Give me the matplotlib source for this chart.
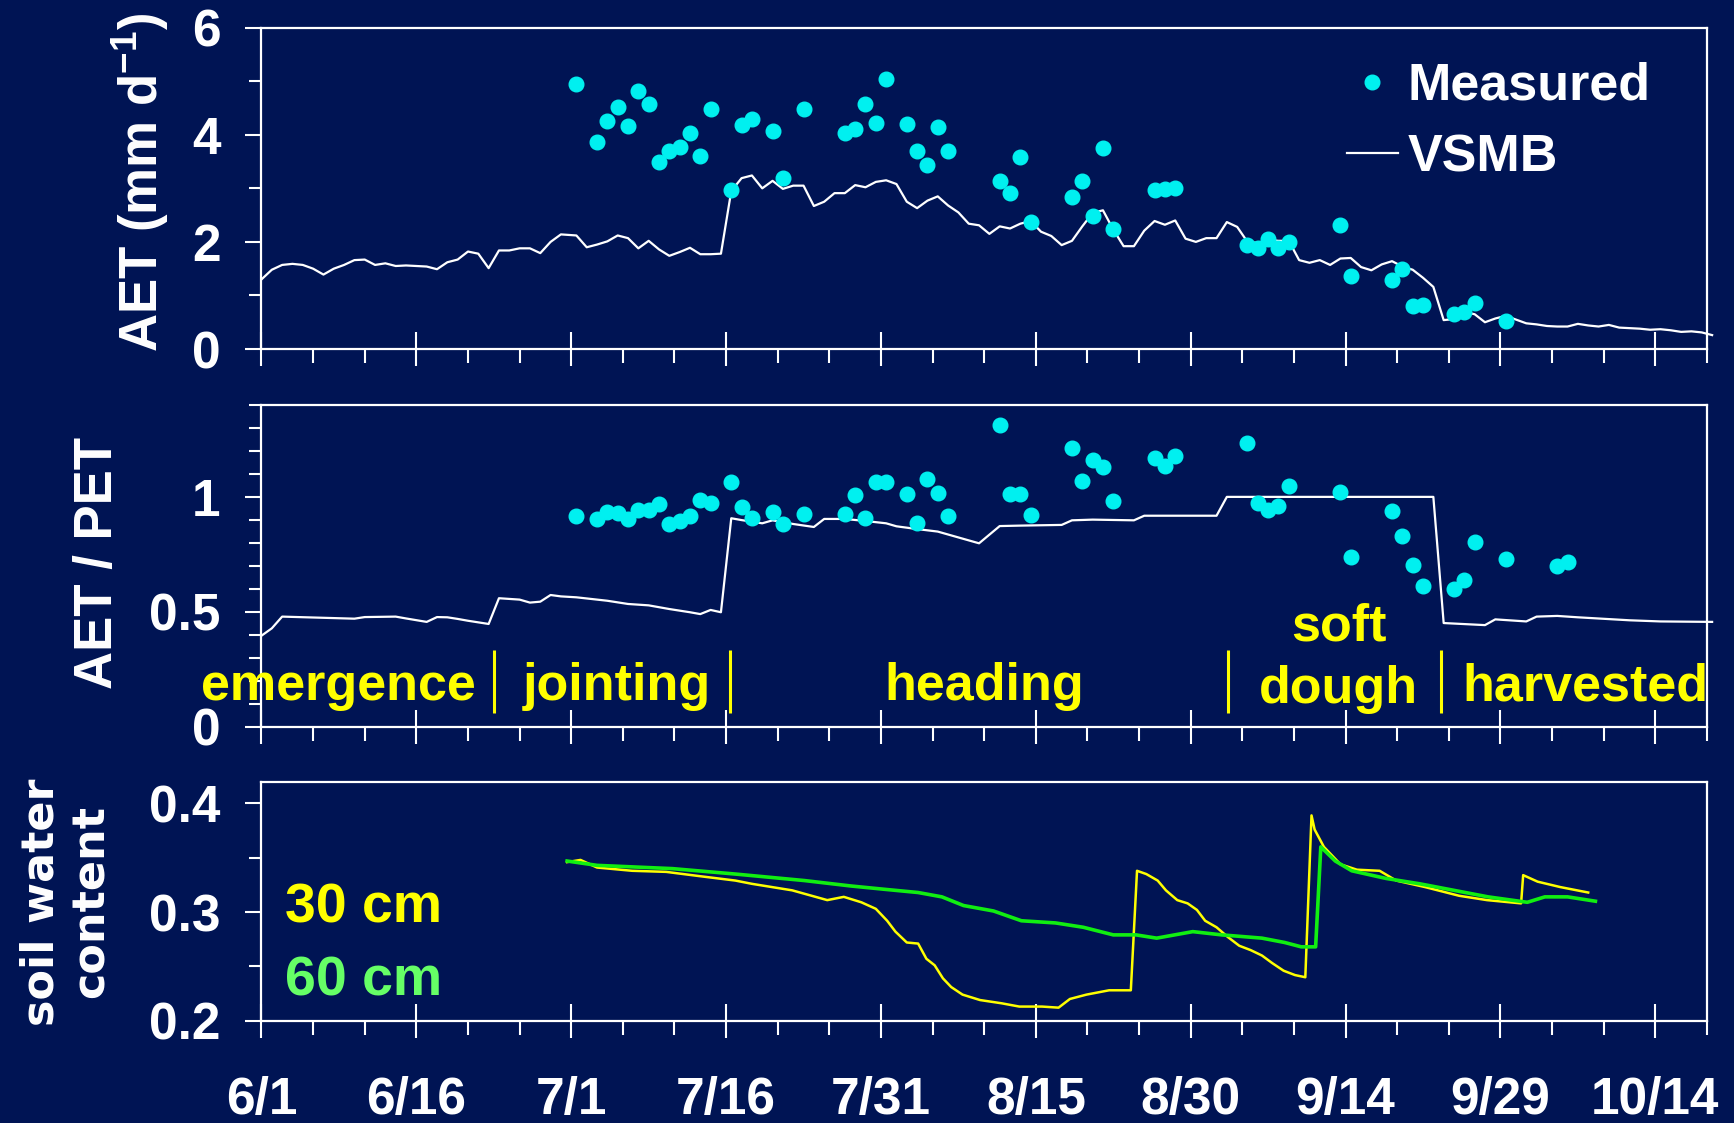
import numpy as np
import matplotlib.pyplot as plt
from matplotlib.ticker import MultipleLocator

# ---- data (days counted from 6/1) ----
date_labels = ['6/1', '6/16', '7/1', '7/16', '7/31', '8/15', '8/30', '9/14', '9/29', '10/14']

# modelled daily AET (VSMB)
vsmb_day = np.concatenate([np.arange(0, 30), np.arange(30.5, 141)])
vsmb_aet = [
    1.30, 1.48, 1.57, 1.59, 1.57, 1.50, 1.39, 1.50, 1.57, 1.66,
    1.67, 1.57, 1.60, 1.55, 1.56, 1.55, 1.54, 1.49, 1.62, 1.67,
    1.82, 1.78, 1.51, 1.84, 1.84, 1.88, 1.88, 1.79, 2.00, 2.14,
    2.12, 1.90, 1.95, 2.01, 2.12, 2.07, 1.88, 2.02, 1.86, 1.74,
    1.81, 1.89, 1.77, 1.77, 1.78, 2.95, 3.19, 3.24, 3.00, 3.14,
    2.99, 3.05, 3.05, 2.67, 2.75, 2.91, 2.91, 3.06, 3.02, 3.12,
    3.15, 3.08, 2.75, 2.63, 2.77, 2.85, 2.68, 2.55, 2.34, 2.31,
    2.15, 2.29, 2.25, 2.34, 2.39, 2.19, 2.11, 1.94, 2.02, 2.29,
    2.54, 2.59, 2.23, 1.92, 1.92, 2.21, 2.39, 2.32, 2.40, 2.06,
    2.00, 2.07, 2.07, 2.37, 2.28, 2.00, 1.98, 2.04, 2.02, 2.02,
    1.66, 1.61, 1.66, 1.57, 1.69, 1.70, 1.53, 1.47, 1.58, 1.64,
    1.54, 1.48, 1.33, 1.16, 0.54, 0.56, 0.69, 0.65, 0.50, 0.57,
    0.62, 0.55, 0.48, 0.46, 0.43, 0.42, 0.42, 0.47, 0.44, 0.42,
    0.45, 0.40, 0.39, 0.38, 0.36, 0.37, 0.35, 0.32, 0.33, 0.31,
    0.26,
]

# measured AET
meas_day = [30.5, 32.5, 33.5, 34.5, 35.5, 36.5, 37.5, 38.5, 39.5, 40.5,
            41.5, 42.5, 43.5, 45.5, 46.5, 47.5, 49.5, 50.5, 52.5, 56.5,
            57.5, 58.5, 59.5, 60.5, 62.5, 63.5, 64.5, 65.5, 66.5, 71.5,
            72.5, 73.5, 74.5, 78.5, 79.5, 80.5, 81.5, 82.5, 86.5, 87.5,
            88.5, 95.5, 96.5, 97.5, 98.5, 99.5, 104.5, 105.5, 109.5, 110.5,
            111.5, 112.5, 115.5, 116.5, 117.5, 120.5]
meas_aet = [4.95, 3.86, 4.25, 4.52, 4.17, 4.81, 4.58, 3.50, 3.69, 3.77,
            4.04, 3.61, 4.48, 2.96, 4.19, 4.30, 4.07, 3.19, 4.49, 4.04,
            4.10, 4.58, 4.22, 5.05, 4.20, 3.69, 3.43, 4.15, 3.70, 3.14,
            2.92, 3.58, 2.37, 2.83, 3.13, 2.49, 3.75, 2.24, 2.96, 2.99,
            3.00, 1.95, 1.89, 2.06, 1.88, 2.00, 2.32, 1.36, 1.28, 1.49,
            0.81, 0.82, 0.66, 0.69, 0.85, 0.52]

# modelled AET/PET
ratio_day = [0, 1, 2, 9, 10, 13, 14, 16, 17, 18, 19, 20, 21, 22, 23, 24, 25, 26,
             27, 28, 29, 30.5, 33.5, 35.5, 37.5, 39.5, 41.5, 42.5, 43.5, 44.5,
             45.5, 46.5, 48.5, 49.5, 51.5, 53.5, 54.5, 56.5, 58.5, 60.5, 61.5,
             63.5, 65.5, 69.5, 71.5, 73.5, 77.5, 78.5, 80.5, 84.5, 85.5, 92.5,
             93.5, 113.5, 114.5, 118.5, 119.5, 122.5, 123.5, 125.5, 127.5,
             132.5, 135.5, 140.5]
ratio_vsmb = [0.396, 0.428, 0.479, 0.470, 0.477, 0.479, 0.471, 0.456, 0.477, 0.476,
              0.469, 0.461, 0.454, 0.447, 0.559, 0.556, 0.553, 0.540, 0.544, 0.573,
              0.567, 0.563, 0.548, 0.534, 0.528, 0.512, 0.498, 0.490, 0.508, 0.498,
              0.907, 0.899, 0.885, 0.898, 0.882, 0.869, 0.904, 0.904, 0.895, 0.885,
              0.872, 0.860, 0.849, 0.798, 0.873, 0.875, 0.878, 0.898, 0.901, 0.898,
              0.918, 0.918, 1.000, 1.000, 0.451, 0.442, 0.467, 0.458, 0.479, 0.482,
              0.476, 0.463, 0.458, 0.456]

# measured AET/PET
ratio_meas_day = [30.5, 32.5, 33.5, 34.5, 35.5, 36.5, 37.5, 38.5, 39.5, 40.5,
                  41.5, 42.5, 43.5, 45.5, 46.5, 47.5, 49.5, 50.5, 52.5, 56.5,
                  57.5, 58.5, 59.5, 60.5, 62.5, 63.5, 64.5, 65.5, 66.5, 71.5,
                  72.5, 73.5, 74.5, 78.5, 79.5, 80.5, 81.5, 82.5, 86.5, 87.5,
                  88.5, 95.5, 96.5, 97.5, 98.5, 99.5, 104.5, 105.5, 109.5, 110.5,
                  111.5, 112.5, 115.5, 116.5, 117.5, 120.5, 125.5, 126.5]
ratio_meas = [0.918, 0.904, 0.933, 0.928, 0.902, 0.943, 0.943, 0.969, 0.882, 0.895,
              0.918, 0.985, 0.973, 1.063, 0.955, 0.907, 0.933, 0.881, 0.924, 0.926,
              1.008, 0.907, 1.063, 1.066, 1.013, 0.885, 1.076, 1.018, 0.915, 1.313,
              1.013, 1.013, 0.921, 1.214, 1.069, 1.161, 1.130, 0.984, 1.169, 1.136,
              1.178, 1.236, 0.975, 0.943, 0.960, 1.047, 1.023, 0.740, 0.937, 0.828,
              0.704, 0.614, 0.601, 0.638, 0.804, 0.728, 0.701, 0.718]

# crop stages
stage_breaks = [22.5, 45.4, 93.6, 114.2]
stage_names = ['emergence', 'jointing', 'heading', 'soft', 'dough', 'harvested']

# soil water content, 30 cm and 60 cm
swc30_day = [29.6, 30.9, 32.5, 35.9, 39.2, 42.5, 45.9, 47.5, 51.4, 54.8,
             56.4, 58.1, 59.5, 60.6, 61.4, 62.5, 63.6, 64.4, 65.2, 66.0,
             66.8, 67.9, 69.6, 71.7, 73.4, 75.6, 77.2, 78.3, 79.9, 82.1,
             84.2, 84.8, 85.7, 86.8, 87.6, 88.7, 89.7, 90.6, 91.4, 92.5,
             93.6, 94.7, 95.8, 96.9, 97.9, 99.0, 100.1, 101.1, 101.7, 102.0,
             102.9, 104.5, 106.1, 108.3, 109.9, 112.7, 116.0, 118.7, 122.0, 122.2,
             123.6, 125.8, 128.5]
swc30 = [0.346, 0.348, 0.341, 0.338, 0.337, 0.333, 0.329, 0.326, 0.320, 0.311,
         0.314, 0.309, 0.303, 0.292, 0.282, 0.272, 0.271, 0.257, 0.251, 0.239,
         0.231, 0.224, 0.219, 0.216, 0.213, 0.213, 0.212, 0.220, 0.224, 0.228,
         0.228, 0.338, 0.335, 0.329, 0.320, 0.311, 0.308, 0.302, 0.292, 0.286,
         0.277, 0.269, 0.265, 0.260, 0.253, 0.246, 0.242, 0.240, 0.389, 0.376,
         0.360, 0.344, 0.339, 0.338, 0.329, 0.323, 0.315, 0.311, 0.308, 0.334,
         0.328, 0.323, 0.318]
swc60_day = [29.6, 32.5, 39.8, 45.9, 52.6, 57.1, 60.3, 63.6, 65.9, 68.0,
             70.9, 73.6, 76.9, 79.6, 82.5, 84.7, 86.7, 90.2, 93.0, 96.9,
             99.1, 100.7, 102.1, 102.6, 104.0, 105.6, 108.9, 112.2, 115.5, 118.8,
             122.6, 124.3, 126.5, 129.2]
swc60 = [0.347, 0.343, 0.340, 0.335, 0.329, 0.324, 0.321, 0.318, 0.314, 0.306,
         0.301, 0.292, 0.290, 0.286, 0.279, 0.279, 0.276, 0.282, 0.279, 0.276,
         0.272, 0.268, 0.268, 0.360, 0.347, 0.338, 0.331, 0.326, 0.320, 0.314,
         0.309, 0.314, 0.314, 0.310]

# ---- style ----
NAVY = '#001454'
CYAN = '#00F0F0'
YELLOW = '#FFFF00'
GREEN = '#11EE11'
LIGHT_GREEN = '#66FF66'

plt.rcParams['font.family'] = ['Liberation Sans', 'DejaVu Sans']
plt.rcParams['font.weight'] = 'bold'
plt.rcParams['mathtext.fontset'] = 'custom'
plt.rcParams['mathtext.rm'] = 'Liberation Sans:bold'
plt.rcParams['mathtext.bf'] = 'Liberation Sans:bold'

fig = plt.figure(figsize=(17.34, 11.23), dpi=100, facecolor=NAVY)
ax1 = fig.add_axes([0.1508, 0.6892, 0.8336, 0.2862])
ax2 = fig.add_axes([0.1508, 0.3529, 0.8336, 0.2865])
ax3 = fig.add_axes([0.1508, 0.0911, 0.8336, 0.2128])


def style_axes(ax):
    ax.set_facecolor(NAVY)
    for s in ax.spines.values():
        s.set_color('white')
        s.set_linewidth(1.6)
    ax.set_xlim(0, 140)
    ax.set_xticks(range(0, 136, 15), date_labels)
    ax.xaxis.set_minor_locator(MultipleLocator(5))
    ax.tick_params(axis='x', which='major', direction='inout', length=25,
                   width=1.5, color='white', labelcolor='white',
                   labelsize=37, pad=27)
    ax.tick_params(axis='x', which='minor', direction='out', length=10,
                   width=1.5, color='white')
    ax.tick_params(axis='y', which='major', direction='out', length=11.5,
                   width=1.5, color='white', labelcolor='white',
                   labelsize=37, pad=18)
    ax.tick_params(axis='y', which='minor', direction='out', length=9,
                   width=1.5, color='white')


for ax in (ax1, ax2, ax3):
    style_axes(ax)
ax1.tick_params(axis='x', labelbottom=False)
ax2.tick_params(axis='x', labelbottom=False)

# top: AET
ax1.set_ylim(0, 6)
ax1.yaxis.set_major_locator(MultipleLocator(2))
ax1.yaxis.set_minor_locator(MultipleLocator(1))
line_vsmb, = ax1.plot(vsmb_day, vsmb_aet, color='white', lw=1.6,
                      label='VSMB', clip_on=False)
pts_meas, = ax1.plot(meas_day, meas_aet, 'o', color=CYAN, ms=10.5,
                     label='Measured')
ax1.legend(handles=[pts_meas, line_vsmb], loc='upper left',
           bbox_to_anchor=(1347 / 1734, 1 - 62 / 1123),
           bbox_transform=fig.transFigure, frameon=False, fontsize=37.5,
           handlelength=0.97, handletextpad=0.2, labelspacing=0.43,
           borderpad=0, borderaxespad=0, labelcolor='white')

# middle: AET / PET with crop stages
ax2.set_ylim(0, 1.4)
ax2.set_yticks([0, 0.5, 1], ['0', '0.5', '1'])
ax2.yaxis.set_minor_locator(MultipleLocator(0.1))
ax2.plot(ratio_day, ratio_vsmb, color='white', lw=1.6, clip_on=False)
ax2.plot(ratio_meas_day, ratio_meas, 'o', color=CYAN, ms=10.5)
ax2.vlines(stage_breaks, 0.06, 0.334, color=YELLOW, lw=2.2)
stage_x = [7.4, 34.4, 70.0, 104.4, 104.3, 128.2]
stage_y = [0.116, 0.116, 0.116, 0.377, 0.103, 0.116]
for name, x, y in zip(stage_names, stage_x, stage_y):
    ax2.text(x, y, name, color=YELLOW, fontsize=37.5, ha='center',
             va='baseline')

# bottom: soil water content
ax3.set_ylim(0.2, 0.42)
ax3.set_yticks([0.2, 0.3, 0.4], ['0.2', '0.3', '0.4'])
ax3.yaxis.set_minor_locator(MultipleLocator(0.05))
ax3.plot(swc30_day, swc30, color=YELLOW, lw=1.8)
ax3.plot(swc60_day, swc60, color=GREEN, lw=2.6)
ax3.text(2.3, 0.2908, '30 cm', color=YELLOW, fontsize=40, va='baseline')
ax3.text(2.3, 0.2236, '60 cm', color=LIGHT_GREEN, fontsize=40, va='baseline')

# axis titles
fig.text(0.0807, 0.8375, r'AET (mm d$^{\mathbf{-1}}$)', rotation=90,
         ha='center', va='center', fontsize=38, color='white')
fig.text(0.0563, 0.4991, 'AET / PET', rotation=90, ha='center', va='center',
         fontsize=38, color='white')
fig.text(0.0380, 0.1968, 'soil water\ncontent', rotation=90, ha='center',
         va='center', fontsize=32, color='white', family='DejaVu Sans',
         multialignment='center')

fig.savefig('out.png', dpi=100, facecolor=NAVY)
